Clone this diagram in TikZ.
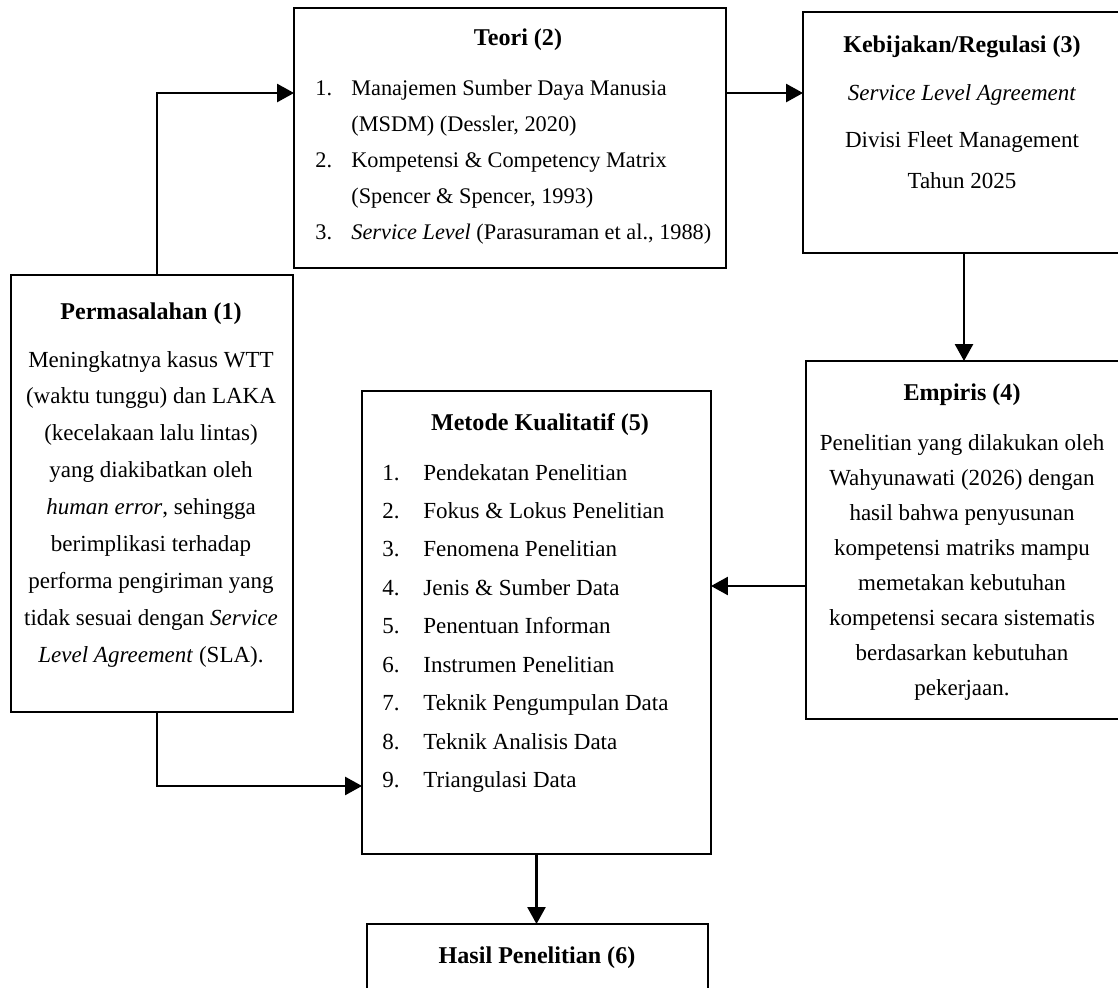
\documentclass[tikz,border=0pt]{standalone}
\usepackage{fontspec}
\setmainfont{Liberation Serif}
\usepackage{array}
\usetikzlibrary{arrows.meta,calc}
\begin{document}
\begin{tikzpicture}[x=0.02cm,y=-0.02cm,
    box/.style={draw,line width=1.1pt,inner sep=0pt,outer sep=0pt},
    head/.style={anchor=base,inner sep=0pt,font=\fontsize{13.7}{16}\selectfont\bfseries},
    body/.style={anchor=base,inner sep=0pt,font=\fontsize{13.1}{21}\selectfont},
    link/.style={line width=1.5pt,-{Triangle[length=0.34cm,width=0.36cm]}}]
  \clip (0,0) rectangle (1118,987);
  \fill[white] (0,0) rectangle (1118,987);
  \foreach \n/\x/\y/\w/\h in {1/152/493.5/5.64/8.74, 2/510/138/8.64/5.2,
      3/964/132.5/6.44/4.82, 4/965/540/6.36/7.16, 5/536.5/622.5/6.98/9.26,
      6/537.5/974/6.82/2}
    \node[box,minimum width=\w cm,minimum height=\h cm] (b\n) at (\x,\y) {};
  \node[head] (h1) at (151,319) {Permasalahan (1)};
  \node[head] (h2) at (518,45) {Teori (2)};
  \node[head] (h3) at (962,52) {Kebijakan/Regulasi (3)};
  \node[head] (h4) at (962,400) {Empiris (4)};
  \node[head] (h5) at (540,430) {Metode Kualitatif (5)};
  \node[head] (h6) at (537,963) {Hasil Penelitian (6)};
  \node[body] (t1) at (151,367) {\begin{tabular}[t]{@{}c@{}}
      Meningkatnya kasus WTT\\ (waktu tunggu) dan LAKA\\
      (kecelakaan lalu lintas)\\ yang diakibatkan oleh\\
      \textit{human error}, sehingga\\ berimplikasi terhadap\\
      performa pengiriman yang\\ tidak sesuai dengan \textit{Service}\\
      \textit{Level Agreement} (SLA).\end{tabular}};
  \node[body,anchor=base west,font=\fontsize{12.7}{20.5}\selectfont] (t2) at (315,95)
    {\begin{tabular}[t]{@{}p{0.72cm}@{}l@{}}
      1. & Manajemen Sumber Daya Manusia\\ & (MSDM) (Dessler, 2020)\\
      2. & Kompetensi \& Competency Matrix\\ & (Spencer \& Spencer, 1993)\\
      3. & \textit{Service Level} (Parasuraman et al., 1988)\end{tabular}};
  \node[body,font=\fontsize{13.1}{22.8}\selectfont] (t3) at (962,100)
    {\begin{tabular}[t]{@{}c@{}}
      \textit{Service Level Agreement}\\[4.5pt] Divisi Fleet Management\\
      Tahun 2025\end{tabular}};
  \node[body,font=\fontsize{13.1}{20}\selectfont] (t4) at (962,450)
    {\begin{tabular}[t]{@{}c@{}}
      Penelitian yang dilakukan oleh\\ Wahyunawati (2026) dengan\\
      hasil bahwa penyusunan\\ kompetensi matriks mampu\\
      memetakan kebutuhan\\ kompetensi secara sistematis\\
      berdasarkan kebutuhan\\ pekerjaan.\end{tabular}};
  \node[body,anchor=base west,font=\fontsize{13.1}{21.9}\selectfont] (t5) at (382,480)
    {\begin{tabular}[t]{@{}p{0.82cm}@{}l@{}}
      1. & Pendekatan Penelitian\\ 2. & Fokus \& Lokus Penelitian\\
      3. & Fenomena Penelitian\\ 4. & Jenis \& Sumber Data\\
      5. & Penentuan Informan\\ 6. & Instrumen Penelitian\\
      7. & Teknik Pengumpulan Data\\ 8. & Teknik Analisis Data\\
      9. & Triangulasi Data\end{tabular}};
  \draw[link] ([xshift=0.1cm]b1.north) |- ([yshift=0.9cm]b2.west);
  \draw[link] ([yshift=0.9cm]b2.east) -- ([yshift=0.9cm]b2.east -| b3.west);
  \draw[link] (b3.south) -- (b3.south |- b4.north);
  \draw[link] ([yshift=-0.92cm]b4.west) -- ([yshift=-0.92cm]b4.west -| b5.east);
  \draw[link] ([xshift=0.1cm]b1.south) |- ([yshift=-3.27cm]b5.west);
  \draw[link] (b5.south) -- (b5.south |- b6.north);
\end{tikzpicture}
\end{document}
